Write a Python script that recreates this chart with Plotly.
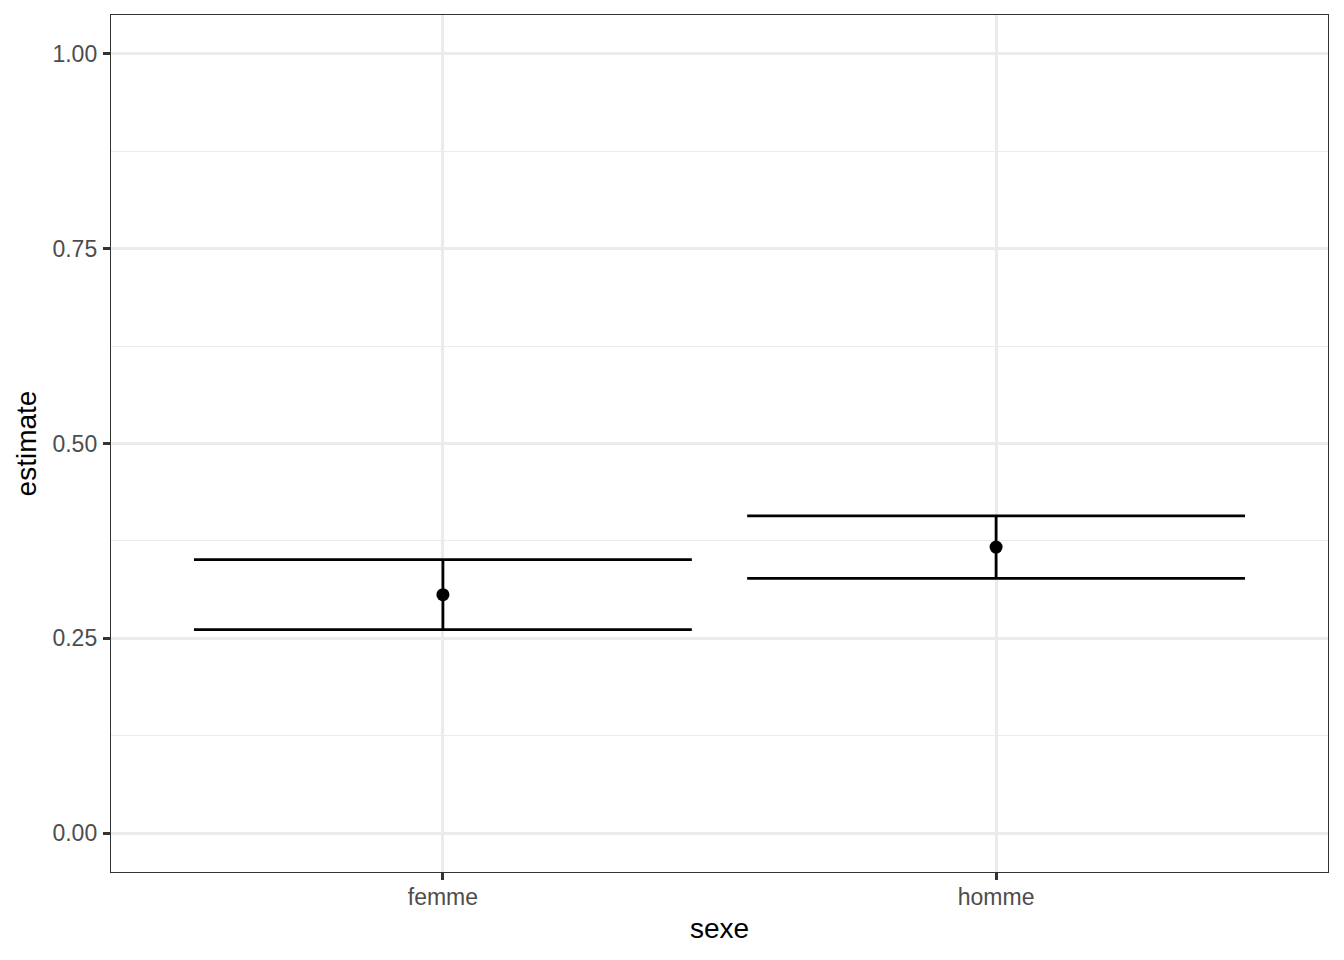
import plotly.graph_objects as go

categories = ["femme", "homme"]
estimate = [0.306, 0.367]
conf_low = [0.261, 0.327]
conf_high = [0.351, 0.407]
bar_width = 0.9
y_ticks = [0.0, 0.25, 0.5, 0.75, 1.0]
y_tick_labels = ["0.00", "0.25", "0.50", "0.75", "1.00"]

xpos = list(range(1, len(categories) + 1))

fig = go.Figure()

# error bars as line segments built from the data
ex, ey = [], []
for x, lo, hi in zip(xpos, conf_low, conf_high):
    ex += [x - bar_width / 2, x + bar_width / 2, None,
           x, x, None,
           x - bar_width / 2, x + bar_width / 2, None]
    ey += [hi, hi, None, lo, hi, None, lo, lo, None]
fig.add_trace(go.Scatter(x=ex, y=ey, mode="lines",
                         line=dict(color="black", width=2.8),
                         hoverinfo="skip", showlegend=False))
fig.add_trace(go.Scatter(x=xpos, y=estimate, mode="markers",
                         marker=dict(color="black", size=13),
                         showlegend=False))

font = "Liberation Sans, Arial, sans-serif"
fig.update_layout(
    width=1344, height=960,
    margin=dict(l=111, r=16, t=15, b=88),
    plot_bgcolor="white", paper_bgcolor="white",
    font=dict(family=font),
    xaxis=dict(
        range=[0.4, 2.6], tickvals=xpos, ticktext=categories,
        showgrid=True, gridcolor="#EBEBEB", gridwidth=2.5,
        zeroline=False, showline=True, mirror=True,
        linecolor="#333333", linewidth=1.4,
        ticks="outside", ticklen=7, tickcolor="#333333", tickwidth=2.5,
        ticklabelstandoff=-3,
        tickfont=dict(size=23, color="#4D4D4D", family=font),
        title=dict(text="sexe", font=dict(size=28, color="black", family=font), standoff=9),
    ),
    yaxis=dict(
        range=[-0.05, 1.05], tickvals=y_ticks, ticktext=y_tick_labels,
        showgrid=True, gridcolor="#EBEBEB", gridwidth=2.5,
        minor=dict(tickvals=[0.125, 0.375, 0.625, 0.875], showgrid=True,
                   gridcolor="#EBEBEB", gridwidth=1.2, ticks=""),
        zeroline=False, showline=True, mirror=True,
        linecolor="#333333", linewidth=1.4,
        ticks="outside", ticklen=7, tickcolor="#333333", tickwidth=2.5,
        ticklabelstandoff=1,
        tickfont=dict(size=23, color="#4D4D4D", family=font),
        title=dict(text="estimate", font=dict(size=28, color="black", family=font), standoff=7),
    ),
)

fig.write_html("out.html", config={"displayModeBar": False},
               post_script="document.body.style.margin='0';")
